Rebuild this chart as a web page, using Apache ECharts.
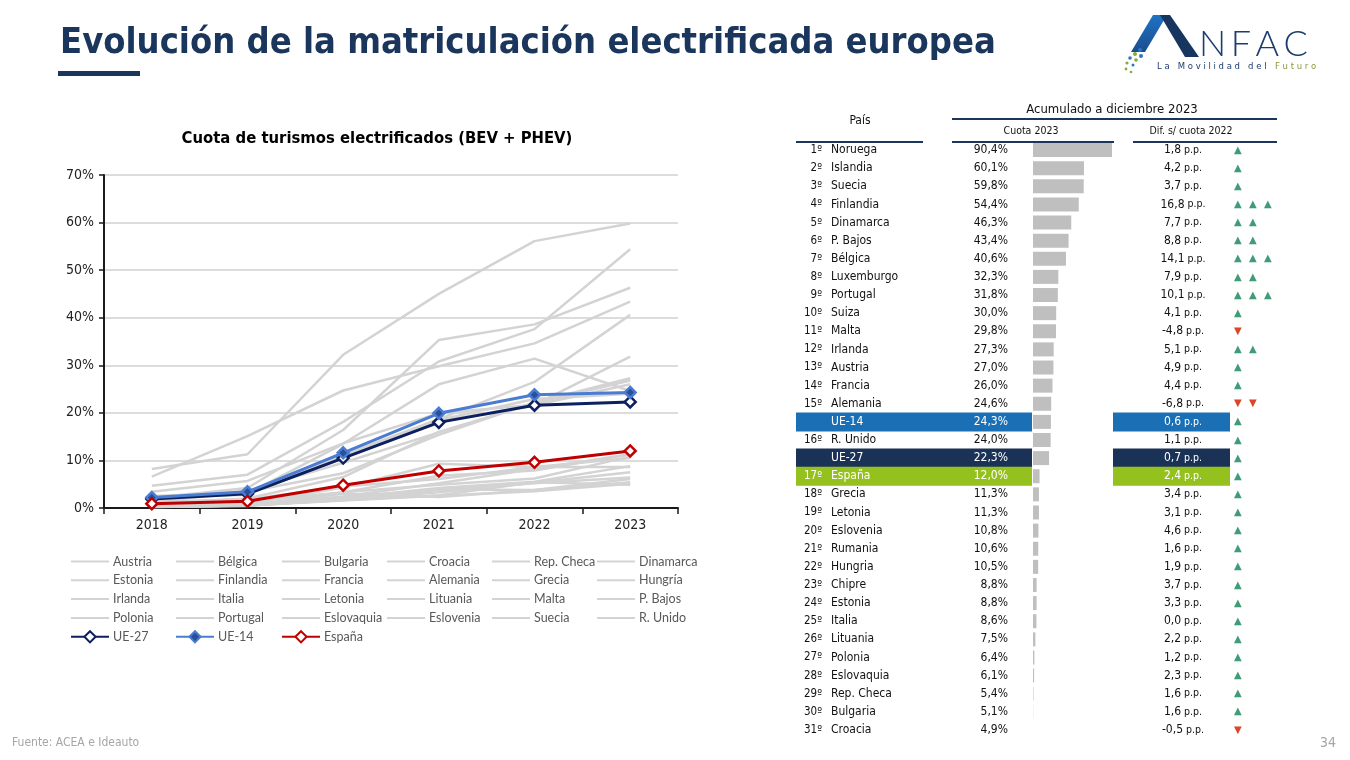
<!DOCTYPE html>
<html><head><meta charset="utf-8">
<script src="https://cdn.jsdelivr.net/npm/echarts@6/dist/echarts.min.js"></script>
<style>html,body{margin:0;padding:0;background:#fff}#c{width:1350px;height:760px}</style>
</head><body><div id="c"></div>
<script>
// ---------- Line chart data (share of electrified cars, %) ----------
const years = ['2018', '2019', '2020', '2021', '2022', '2023'];
const countries = ['Austria','Bélgica','Bulgaria','Croacia','Rep. Checa','Dinamarca','Estonia','Finlandia','Francia','Alemania','Grecia','Hungría','Irlanda','Italia','Letonia','Lituania','Malta','P. Bajos','Polonia','Portugal','Eslovaquia','Eslovenia','Suecia','R. Unido'];
const austria    = [2.0, 3.6, 9.5, 15.9, 22.1, 27.0];
const belgica    = [1.8, 3.2, 11.1, 18.7, 26.5, 40.6];
const bulgaria   = [0.3, 0.5, 1.6, 2.6, 3.5, 5.1];
const croacia    = [0.3, 0.5, 1.7, 2.7, 5.4, 4.9];
const repCheca   = [0.3, 0.6, 3.0, 2.3, 3.8, 5.4];
const dinamarca  = [2.1, 4.2, 16.4, 35.3, 38.6, 46.3];
const estonia    = [0.6, 0.8, 2.1, 4.2, 5.5, 8.8];
const finlandia  = [4.7, 7.0, 18.1, 30.8, 37.6, 54.4];
const francia    = [2.1, 2.8, 11.3, 18.3, 21.6, 26.0];
const alemania   = [1.9, 3.0, 13.5, 26.0, 31.4, 24.6];
const grecia     = [0.2, 0.4, 3.3, 6.8, 7.9, 11.3];
const hungria    = [1.3, 1.8, 4.5, 6.1, 8.6, 10.5];
const irlanda    = [1.2, 3.4, 7.3, 15.4, 22.2, 27.3];
const italia     = [0.5, 0.9, 4.3, 9.3, 8.6, 8.6];
const letonia    = [0.5, 0.7, 2.4, 5.2, 8.2, 11.3];
const lituania   = [0.3, 0.5, 1.7, 3.3, 5.3, 7.5];
const malta      = [1.0, 2.0, 6.5, 16.0, 22.0, 26.8];
const pBajos     = [6.6, 15.1, 24.7, 29.8, 34.6, 43.4];
const polonia    = [0.2, 0.5, 1.9, 3.8, 5.2, 6.4];
const portugal   = [3.4, 5.7, 13.6, 19.9, 21.7, 31.8];
const eslovaquia = [0.3, 0.5, 2.3, 3.9, 3.8, 6.1];
const eslovenia  = [0.8, 1.3, 3.3, 4.9, 6.2, 10.8];
const suecia     = [8.2, 11.3, 32.2, 45.0, 56.1, 59.8];
const rUnido     = [2.5, 3.2, 10.7, 18.5, 22.9, 24.0];
const ue27       = [1.9, 3.0, 10.5, 18.0, 21.6, 22.3];
const ue14       = [2.2, 3.4, 11.6, 19.9, 23.8, 24.3];
const espana     = [0.9, 1.4, 4.8, 7.8, 9.6, 12.0];
const countrySeriesData = [austria, belgica, bulgaria, croacia, repCheca, dinamarca, estonia, finlandia, francia, alemania, grecia, hungria, irlanda, italia, letonia, lituania, malta, pBajos, polonia, portugal, eslovaquia, eslovenia, suecia, rUnido];
const yTickLabels = ['0%','10%','20%','30%','40%','50%','60%','70%'];

// ---------- Ranking table data ----------
const tableRanks  = ['1º','2º','3º','4º','5º','6º','7º','8º','9º','10º','11º','12º','13º','14º','15º','','16º','','17º','18º','19º','20º','21º','22º','23º','24º','25º','26º','27º','28º','29º','30º','31º'];
const tableNames  = ['Noruega','Islandia','Suecia','Finlandia','Dinamarca','P. Bajos','Bélgica','Luxemburgo','Portugal','Suiza','Malta','Irlanda','Austria','Francia','Alemania','UE-14','R. Unido','UE-27','España','Grecia','Letonia','Eslovenia','Rumania','Hungria','Chipre','Estonia','Italia','Lituania','Polonia','Eslovaquia','Rep. Checa','Bulgaria','Croacia'];
const tableShares = [90.4,60.1,59.8,54.4,46.3,43.4,40.6,32.3,31.8,30.0,29.8,27.3,27.0,26.0,24.6,24.3,24.0,22.3,12.0,11.3,11.3,10.8,10.6,10.5,8.8,8.8,8.6,7.5,6.4,6.1,5.4,5.1,4.9];
const tableDiffs  = [1.8,4.2,3.7,16.8,7.7,8.8,14.1,7.9,10.1,4.1,-4.8,5.1,4.9,4.4,-6.8,0.6,1.1,0.7,2.4,3.4,3.1,4.6,1.6,1.9,3.7,3.3,0.0,2.2,1.2,2.3,1.6,1.6,-0.5];
const highlightRows   = ['UE-14','UE-27','España'];
const highlightColors = ['#1a6fb5','#1b3257','#95c11f'];

// ---------- helpers ----------
const TF = 'DejaVu Sans Condensed';
const fmtNum = v => v.toFixed(1).replace('.', ',');
const isHL = i => highlightRows.indexOf(tableNames[i]) >= 0;
const hlColor = i => highlightColors[highlightRows.indexOf(tableNames[i])];

const series = [];
countries.forEach((c, i) => {
  series.push({
    name: c, type: 'line', data: countrySeriesData[i], xAxisIndex: 0, yAxisIndex: 0,
    symbol: 'none', lineStyle: { color: '#d3d3d3', width: 2.5 }, itemStyle: { color: '#d3d3d3' },
    silent: true, z: 2
  });
});
series.push({
  name: 'UE-27', type: 'line', data: ue27, xAxisIndex: 0, yAxisIndex: 0,
  symbol: 'diamond', symbolSize: 11, lineStyle: { color: '#0c1f5e', width: 3 },
  itemStyle: { color: '#ffffff', borderColor: '#0c1f5e', borderWidth: 2.5 }, z: 4
});
series.push({
  name: 'UE-14', type: 'line', data: ue14, xAxisIndex: 0, yAxisIndex: 0,
  symbol: 'diamond', symbolSize: 11, lineStyle: { color: '#4a7dd2', width: 3 },
  itemStyle: { color: '#2b4f98', borderColor: '#4a7dd2', borderWidth: 2.5 }, z: 5
});
series.push({
  name: 'España', type: 'line', data: espana, xAxisIndex: 0, yAxisIndex: 0,
  symbol: 'diamond', symbolSize: 11, lineStyle: { color: '#c00000', width: 3 },
  itemStyle: { color: '#ffffff', borderColor: '#c00000', borderWidth: 2.5 }, z: 6
});

// table: highlight boxes (left & right) and share bars
const hlData = tableNames.map((n, i) => isHL(i) ? { value: 1, itemStyle: { color: hlColor(i) } } : '-');
series.push({ type: 'bar', xAxisIndex: 1, yAxisIndex: 1, data: hlData, barWidth: 19, silent: true, z: 0 });
series.push({ type: 'bar', xAxisIndex: 3, yAxisIndex: 5, data: hlData, barWidth: 19, silent: true, z: 0 });
series.push({ type: 'bar', xAxisIndex: 2, yAxisIndex: 4, data: tableShares, barWidth: 14, clip: true,
  itemStyle: { color: '#bfbfbf' }, silent: true, z: 2 });

// legends in 6 columns
const legendLefts = [70, 175, 281, 386, 491, 596];
const extras = ['UE-27', 'UE-14', 'España'];
const legends = legendLefts.map((lx, j) => {
  const items = [];
  for (let k = j; k < countries.length; k += 6) {
    items.push({ name: countries[k], itemStyle: { color: 'rgba(0,0,0,0)', borderColor: 'rgba(0,0,0,0)', borderWidth: 0, opacity: 0 } });
  }
  if (j < extras.length) items.push({ name: extras[j] });
  return {
    data: items, orient: 'vertical', left: lx, top: 555, padding: 0, itemWidth: 38, itemHeight: 14, itemGap: 5.8,
    selectedMode: false, textStyle: { fontFamily: 'Lato', fontSize: 12.5, color: '#595959', padding: [0,0,0,-1] }
  };
});

const catAxis = (gridIndex, extra) => Object.assign({
  type: 'category', gridIndex, data: tableNames, inverse: true, z: 10,
  axisLine: { show: false }, axisTick: { show: false }, splitLine: { show: false },
  axisLabel: { show: false }
}, extra);

const option = {
  animation: false,
  backgroundColor: '#ffffff',
  legend: legends,
  grid: [
    { left: 104, top: 175, width: 574, height: 333 },
    { left: 796, top: 141, width: 236, height: 598 },
    { left: 1033, top: 141, width: 79, height: 598 },
    { left: 1113, top: 141, width: 117, height: 598 }
  ],
  xAxis: [
    { type: 'category', gridIndex: 0, data: years, boundaryGap: true,
      axisLine: { lineStyle: { color: '#1a1a1a', width: 2 } },
      axisTick: { show: true, length: 6, lineStyle: { color: '#1a1a1a', width: 1.5 } },
      axisLabel: { fontFamily: TF, fontSize: 14, color: '#222', margin: 10 } },
    { type: 'value', gridIndex: 1, min: 0, max: 1, show: false },
    { type: 'value', gridIndex: 2, min: 4.9, max: 90.4, show: false },
    { type: 'value', gridIndex: 3, min: 0, max: 1, show: false }
  ],
  yAxis: [
    { type: 'value', gridIndex: 0, min: 0, max: 70, interval: 10,
      axisLine: { show: true, lineStyle: { color: '#1a1a1a', width: 2 } },
      axisTick: { show: true, length: 5, lineStyle: { color: '#1a1a1a', width: 1.5 } },
      splitLine: { lineStyle: { color: '#dcdcdc', width: 2 } },
      axisLabel: { formatter: (v) => yTickLabels[Math.round(v / 10)], fontFamily: TF, fontSize: 14, color: '#222', margin: 10 } },
    // 1: rank column
    catAxis(1, { position: 'left', offset: -26, axisLabel: { show: true, interval: 0, margin: 0, align: 'right',
      formatter: (v, i) => tableRanks[i] ? '{' + (isHL(i) ? 'w' : 'k') + '|' + tableRanks[i] + '}' : '',
      rich: { k: { fontFamily: TF, fontSize: 11.5, color: '#111' }, w: { fontFamily: TF, fontSize: 11.5, color: '#fff' } } } }),
    // 2: name column
    catAxis(1, { position: 'left', offset: -35, axisLabel: { show: true, interval: 0, margin: 0, align: 'left',
      formatter: (v, i) => '{' + (isHL(i) ? 'w' : 'k') + '|' + v + '}',
      rich: { k: { fontFamily: TF, fontSize: 12, color: '#111' }, w: { fontFamily: TF, fontSize: 12, color: '#fff' } } } }),
    // 3: share text column
    catAxis(1, { position: 'left', offset: -212, axisLabel: { show: true, interval: 0, margin: 0, align: 'right',
      formatter: (v, i) => '{' + (isHL(i) ? 'w' : 'k') + '|' + fmtNum(tableShares[i]) + '%}',
      rich: { k: { fontFamily: TF, fontSize: 12, color: '#111' }, w: { fontFamily: TF, fontSize: 12, color: '#fff' } } } }),
    // 4: bars axis
    catAxis(2, {}),
    // 5: diff text column
    catAxis(3, { position: 'left', offset: -70, axisLabel: { show: true, interval: 0, margin: 0, align: 'center',
      formatter: (v, i) => { const s = isHL(i) ? 'w' : 'k'; return '{' + s + 'n|' + fmtNum(tableDiffs[i]) + '}{' + s + 'p| p.p.}'; },
      rich: { kn: { fontFamily: TF, fontSize: 12, color: '#111' }, kp: { fontFamily: TF, fontSize: 10.5, color: '#111' },
              wn: { fontFamily: TF, fontSize: 12, color: '#fff' }, wp: { fontFamily: TF, fontSize: 10.5, color: '#fff' } } } }),
    // 6: arrows column
    catAxis(3, { position: 'left', offset: -121, axisLabel: { show: true, interval: 0, margin: 0, align: 'left',
      formatter: (v, i) => { const d = tableDiffs[i]; const a = Math.abs(d); const n = a >= 10 ? 3 : (a >= 5 ? 2 : 1);
        const t = d >= 0 ? '{u|▲}' : '{d|▼}'; return t.repeat(n); },
      rich: { u: { fontFamily: 'DejaVu Sans', fontSize: 10, color: '#3f9c77', width: 15, align: 'left' },
              d: { fontFamily: 'DejaVu Sans', fontSize: 10, color: '#d9472b', width: 15, align: 'left' } } } })
  ],
  series: series,
  graphic: [
    { type: 'text', x: 60, y: 44, style: { text: 'Evolución de la matriculación electrificada europea',
      font: 'bold 36px "DejaVu Sans Condensed"', fill: '#1b365d', verticalAlign: 'middle' } },
    { type: 'rect', shape: { x: 58, y: 71, width: 82, height: 5 }, style: { fill: '#1b365d' } },
    { type: 'text', x: 377, y: 139, style: { text: 'Cuota de turismos electrificados (BEV + PHEV)',
      font: 'bold 16.5px "DejaVu Sans Condensed"', fill: '#000', align: 'center', verticalAlign: 'middle' } },
    // table headers
    { type: 'text', x: 1112, y: 110, style: { text: 'Acumulado a diciembre 2023', font: '13px "DejaVu Sans Condensed"', fill: '#111', align: 'center', verticalAlign: 'middle' } },
    { type: 'text', x: 860, y: 121, style: { text: 'País', font: '12px "DejaVu Sans Condensed"', fill: '#111', align: 'center', verticalAlign: 'middle' } },
    { type: 'text', x: 1031, y: 131, style: { text: 'Cuota 2023', font: '10.5px "DejaVu Sans Condensed"', fill: '#111', align: 'center', verticalAlign: 'middle' } },
    { type: 'text', x: 1191, y: 131, style: { text: 'Dif. s/ cuota 2022', font: '10.5px "DejaVu Sans Condensed"', fill: '#111', align: 'center', verticalAlign: 'middle' } },
    { type: 'line', shape: { x1: 952, y1: 119, x2: 1277, y2: 119 }, style: { stroke: '#1b365d', lineWidth: 2 } },
    { type: 'line', shape: { x1: 796, y1: 142, x2: 923, y2: 142 }, style: { stroke: '#1b365d', lineWidth: 2 } },
    { type: 'line', shape: { x1: 952, y1: 142, x2: 1114, y2: 142 }, style: { stroke: '#1b365d', lineWidth: 2 } },
    { type: 'line', shape: { x1: 1133, y1: 142, x2: 1277, y2: 142 }, style: { stroke: '#1b365d', lineWidth: 2 } },
    // footer
    { type: 'text', x: 12, y: 743, style: { text: 'Fuente: ACEA e Ideauto', font: '12px "DejaVu Sans Condensed"', fill: '#a6a6a6', verticalAlign: 'middle' } },
    { type: 'text', x: 1336, y: 743, style: { text: '34', font: '14px "DejaVu Sans Condensed"', fill: '#a6a6a6', align: 'right', verticalAlign: 'middle' } },
    // logo
    { type: 'polygon', shape: { points: [[1131,52],[1153,15],[1167,15],[1145,52]] },
      style: { fill: new echarts.graphic.LinearGradient(0, 0, 0, 1, [{ offset: 0, color: '#1f73c4' }, { offset: 1, color: '#1a4d8f' }]) } },
    { type: 'polygon', shape: { points: [[1160,15],[1170,15],[1199,57],[1185,57]] }, style: { fill: '#16365f' } },
    { type: 'text', x: 1199, y: 44, style: { text: 'N\u2009F\u2009A\u2009C', font: '300 36px Lato, "Open Sans"', fill: '#1d3d6e', verticalAlign: 'middle' } },
    { type: 'text', x: 1157, y: 67, style: { text: 'L a   M o v i l i d a d   d e l   ', font: '8.5px "DejaVu Sans"', fill: '#1d3d6e', verticalAlign: 'middle' } },
    { type: 'text', x: 1275, y: 67, style: { text: 'F u t u r o', font: '8.5px "DejaVu Sans"', fill: '#8a9a3a', verticalAlign: 'middle' } },
    { type: 'circle', shape: { cx: 1140, cy: 50, r: 2 }, style: { fill: '#2b78c2' } },
    { type: 'circle', shape: { cx: 1135, cy: 54, r: 2 }, style: { fill: '#7fae3a' } },
    { type: 'circle', shape: { cx: 1141, cy: 56, r: 2 }, style: { fill: '#2b78c2' } },
    { type: 'circle', shape: { cx: 1130, cy: 58, r: 1.8 }, style: { fill: '#2b78c2' } },
    { type: 'circle', shape: { cx: 1136, cy: 60, r: 1.8 }, style: { fill: '#7fae3a' } },
    { type: 'circle', shape: { cx: 1127, cy: 63, r: 1.6 }, style: { fill: '#7fae3a' } },
    { type: 'circle', shape: { cx: 1133, cy: 65, r: 1.5 }, style: { fill: '#2b78c2' } },
    { type: 'circle', shape: { cx: 1126, cy: 69, r: 1.4 }, style: { fill: '#7fae3a' } },
    { type: 'circle', shape: { cx: 1131, cy: 72, r: 1.3 }, style: { fill: '#7fae3a' } }
  ]
};

const chart = echarts.init(document.getElementById('c'), null, { renderer: 'canvas' });
chart.setOption(option);
</script>
</body></html>
